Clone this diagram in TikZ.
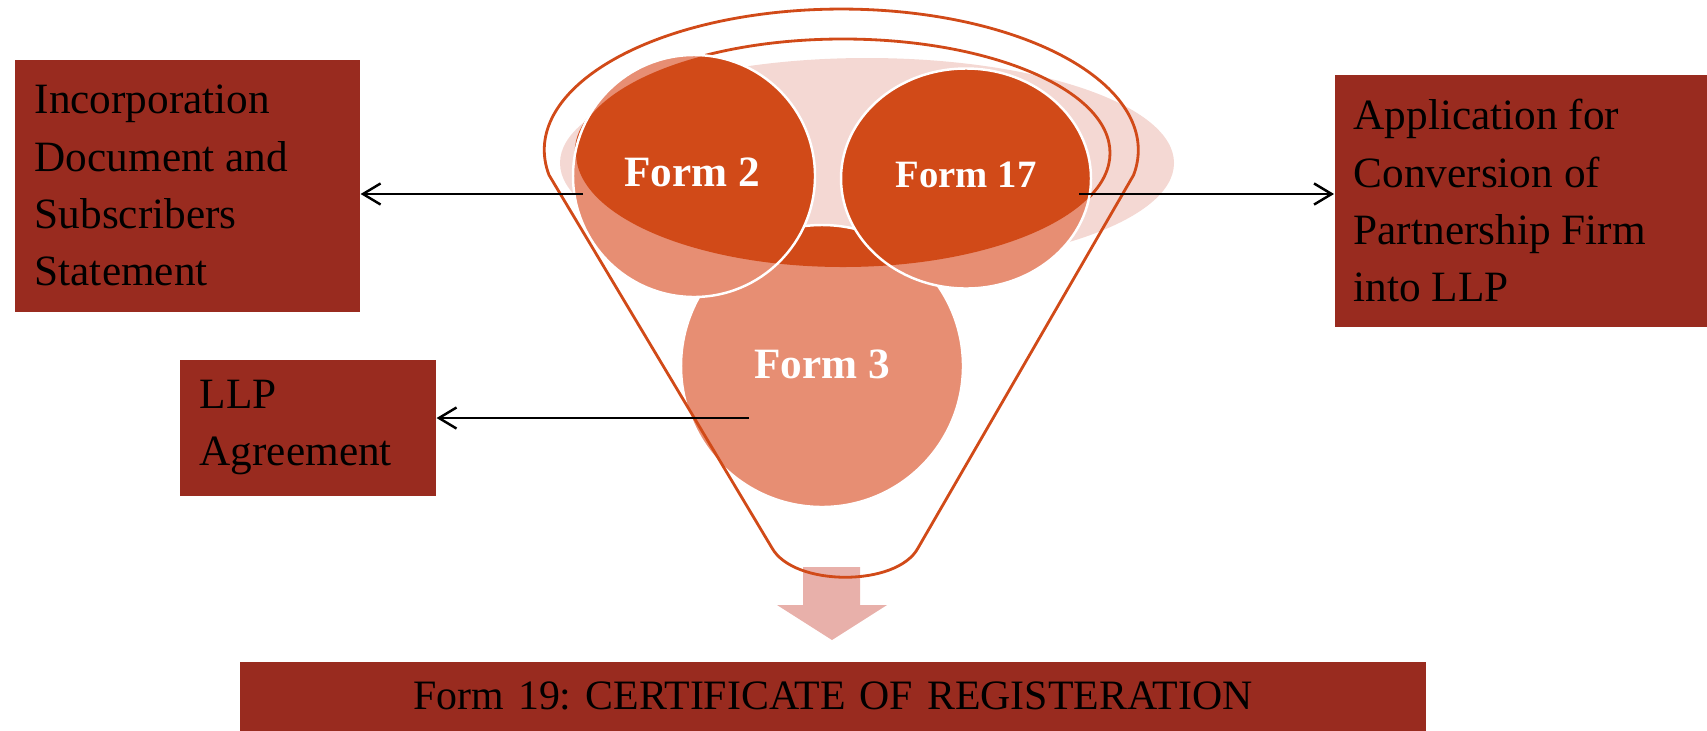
\documentclass[tikz,border=0pt]{standalone}
\usepackage{fontspec}
\setmainfont{Liberation Serif}
\frenchspacing
\usetikzlibrary{arrows.meta,positioning}

\definecolor{boxred}{RGB}{153,43,31}
\definecolor{funnelorange}{RGB}{209,74,24}
\definecolor{lightorange}{RGB}{231,142,115}
\definecolor{shadowpink}{RGB}{244,216,211}
\definecolor{arrowpink}{RGB}{232,176,170}

\tikzset{
  docbox/.style={fill=boxred, text=black, inner xsep=0.2cm, inner ysep=0pt,
                 align=flush left, anchor=north west, font=\fontsize{12.3}{16.3}\selectfont},
  formlabel/.style={text=white, font=\bfseries\fontsize{12.3}{14}\selectfont},
  link/.style={black, line width=0.7pt, -{Straight Barb[length=5pt,width=6pt]}},
}

% mouth of the funnel, used to clip the darker part of each disc
\newcommand\rimpath{(843,153) ellipse [x radius=267, y radius=114]}

\begin{document}
\begin{tikzpicture}[x=0.01cm, y=-0.01cm]
\useasboundingbox (0,0) rectangle (1707,730);

\fill[shadowpink] (867,163) ellipse [x radius=307, y radius=105];
\draw[funnelorange, line width=0.8pt] \rimpath;

% Form 3 first, then Form 2 and Form 17 on top
\foreach \cx/\cy/\rx/\ry in {822/366/141/141, 694/176/121/121, 966/178.5/125/110} {
  \fill[lightorange] (\cx,\cy) ellipse [x radius=\rx, y radius=\ry];
  \begin{scope}
    \clip \rimpath;
    \fill[funnelorange] (\cx,\cy) ellipse [x radius=\rx, y radius=\ry];
  \end{scope}
  \draw[white, line width=0.7pt] (\cx,\cy) ellipse [x radius=\rx, y radius=\ry];
}

\fill[arrowpink] (803,567) -- (860,567) -- (860,605) -- (887,605) -- (832,640)
        -- (777,605) -- (803,605) -- cycle;

\draw[funnelorange, line width=0.8pt]
        (549,175) arc[start angle=169.8, end angle=370.2, x radius=297, y radius=141]
        -- (918,548) .. controls (897,587) and (794,587) .. (772,548) -- cycle;

\node[formlabel] (form2) at (692,172) {Form 2};
\node[formlabel, font=\bfseries\fontsize{11}{13}\selectfont] (form17) at (966,175) {Form 17};
\node[formlabel] (form3) at (822,364) {Form 3};

\node[docbox, text width=3.05cm, minimum height=2.52cm] (incdoc) at (14,59)
        {Incorporation\\ Document and\\ Subscribers\\ Statement};
\node[docbox, text width=3.35cm, inner xsep=0.19cm, minimum height=2.52cm] (convapp) at (1334,74)
        {Application for\\ Conversion of\\ Partnership Firm\\ into LLP};
\node[docbox, text width=2.16cm, minimum height=1.36cm] (llpagr) at (179,359)
        {LLP\\ Agreement};
\node[docbox, align=center, text width=11.46cm, minimum height=0.69cm,
      font=\fontsize{11.9}{14}\selectfont] (certif) at (239,661)
        {Form 19: CERTIFICATE OF REGISTERATION};

\coordinate (f2tail) at (583,194);
\coordinate (f17tail) at (1079,194);
\coordinate (f3tail) at (749,418);
\draw[link] (f2tail) -- (f2tail -| incdoc.east);
\draw[link] (f17tail) -- (f17tail -| convapp.west);
\draw[link] (f3tail) -- (f3tail -| llpagr.east);
\end{tikzpicture}
\end{document}
